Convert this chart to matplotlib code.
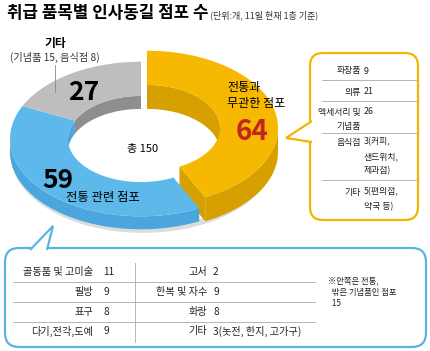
import numpy as np
import matplotlib.pyplot as plt
from matplotlib.patches import Polygon, FancyBboxPatch

plt.rcParams['font.family'] = ['Noto Sans CJK KR', 'DejaVu Sans']

# donut data
seg_names = ["전통과 무관한 점포", "전통 관련 점포", "기타"]
seg_values = [64, 59, 27]
total_label = "총 150"
other_note = "(기념품 15, 음식점 8)"

# right box (non-traditional shops)
right_labels = ["화장품", "의류", "액세서리 및\n기념품", "음식점", "기타"]
right_values = ["9", "21", "26", "3(커피,\n샌드위치,\n제과점)", "5(편의점,\n약국 등)"]

# bottom box (traditional shops)
left_labels = ["골동품 및 고미술", "필방", "표구", "다기,전각,도예"]
left_values = ["11", "9", "8", "9"]
mid_labels = ["고서", "한복 및 자수", "화랑", "기타"]
mid_values = ["2", "9", "8", "3(놋전, 한지, 고가구)"]
note_lines = ["※안쪽은 전통,", "  밖은 기념품인 점포", "  15"]

fig = plt.figure(figsize=(4.3, 3.51), dpi=100)
ax = fig.add_axes([0, 0, 1, 1])
ax.set_xlim(0, 430)
ax.set_ylim(351, 0)
ax.axis('off')

# ---- 3d donut ----
cx, cy = 141, 139
R, r = 131, 73
tilt = 0.59
T = 13

top_cols = ['#F6B800', '#5DB9EA', '#BEBEBE']
side_cols = ['#D6A000', '#4AA6DC', '#8E8E8E']
offs = [(6, 11), (0, 0), (0, 0)]   # (dx, raise) per segment


def pt(rad, th, z, dx):
    t = np.radians(th)
    return cx + dx + rad * np.cos(t), cy - rad * np.sin(t) * tilt - z


def arc(rad, a, b, z, dx, n=80):
    return [pt(rad, t, z, dx) for t in np.linspace(a, b, n)]


def clip(a, b, lo, hi):
    # parts of [a, b] inside [lo, hi], trying shifts of 360
    out = []
    for s in (-360, 0, 360):
        l, h = max(a + s, lo), min(b + s, hi)
        if h > l:
            out.append((l, h))
    return out


tot = sum(seg_values)
spans = []
start = 90.0
for v in seg_values:
    end = start - v / tot * 360
    spans.append((end, start))
    start = end

# faint shadow under the ring
shadow = arc(R + 1, -180, 0, -T - 3, 2) + arc(R, 0, -180, -T + 2, 0)
ax.add_patch(Polygon(shadow, closed=True, fc='#DCDCDC', ec='none'))

layers = {'inner': [], 'end': [], 'body': []}
for i, (a, b) in enumerate(spans):
    dx, up = offs[i]
    # inner wall, back half
    for l, h in clip(a, b, 0, 180):
        poly = arc(r, l, h, up, dx) + arc(r, h, l, -T, dx)
        layers['inner'].append((i, Polygon(poly, closed=True, fc=side_cols[i], ec='none')))
    # outer wall, front half
    for l, h in clip(a, b, -180, 0):
        poly = arc(R, l, h, up, dx) + arc(R, h, l, -T, dx)
        layers['body'].append((i, Polygon(poly, closed=True, fc=side_cols[i], ec='none', lw=0)))
    # top face
    poly = arc(R, a, b, up, dx) + arc(r, b, a, up, dx)
    layers['body'].append((i, Polygon(poly, closed=True, fc=top_cols[i], ec='none')))
    if up > 0:
        poly = [pt(r, a, up, dx), pt(R, a, up, dx), pt(R, a, -T, dx), pt(r, a, -T, dx)]
        layers['end'].append((i, Polygon(poly, closed=True, fc=side_cols[i], ec='none')))

for _, p in layers['inner']:
    ax.add_patch(p)
for _, p in layers['end']:
    ax.add_patch(p)
# raised segment goes on top of the rest
order = sorted(layers['body'], key=lambda q: (offs[q[0]][1] > 0))
for _, p in order:
    ax.add_patch(p)

# donut labels
ax.text(55, 44, "기타", fontsize=8.5, fontweight='bold', ha='center', va='center')
ax.text(55, 57, other_note, fontsize=7.3, ha='center', va='center', color='#333333')
ax.plot([55, 55], [65, 92], color='#888888', lw=0.6)
ax.text(84, 92, str(seg_values[2]), fontsize=19, fontweight='bold', ha='center', va='center')
ax.text(227, 87, "전통과", fontsize=8.7, ha='left', va='center')
ax.text(227, 103, "무관한 점포", fontsize=8.7, ha='left', va='center')
ax.text(252, 132, str(seg_values[0]), fontsize=20, fontweight='bold', color='#C0261C',
        ha='center', va='center')
ax.text(58, 181, str(seg_values[1]), fontsize=19, fontweight='bold', ha='center', va='center')
ax.text(103, 198, "전통 관련 점포", fontsize=8.9, ha='center', va='center')
ax.text(143, 149, total_label, fontsize=8, ha='center', va='center')

# ---- title ----
ax.text(7, 13, "취급 품목별 인사동길 점포 수", fontsize=12.1, fontweight='bold',
        ha='left', va='center')
ax.text(210, 15, "(단위:개, 11일 현재 1층 기준)", fontsize=6.5, ha='left', va='center',
        color='#333333')


def lines(x, y, s, lh, **kw):
    for k, line in enumerate(s.split('\n')):
        ax.text(x, y + k * lh, line, va='center', **kw)


# ---- right callout ----
ycol = '#F2B600'
ax.add_patch(FancyBboxPatch((310, 53), 108, 167, boxstyle="round,pad=0,rounding_size=13",
                            fc='white', ec=ycol, lw=1.6))
ax.add_patch(Polygon([(312, 121), (286, 138), (312, 142)], closed=False,
                     fc='white', ec=ycol, lw=1.6))
row_y = [71, 92, 112, 142, 192]
for lab, val, yy in zip(right_labels, right_values, row_y):
    lines(361, yy, lab, 14.5, ha='right', fontsize=6.4, color='#222222')
    lines(364, yy, val, 14.5, ha='left', fontsize=6.4, color='#222222')
for yy in [80, 101, 133, 180]:
    ax.plot([322, 416], [yy, yy], color='#AAAAAA', lw=0.6)

# ---- bottom callout ----
bcol = '#5AB4E2'
ax.add_patch(FancyBboxPatch((5, 248), 421, 99, boxstyle="round,pad=0,rounding_size=14",
                            fc='white', ec=bcol, lw=1.6))
ax.add_patch(Polygon([(30, 250), (53, 226), (47, 250)], closed=False,
                     fc='white', ec=bcol, lw=1.6))
rows = [272, 292, 312, 331]
for k, yy in enumerate(rows):
    ax.text(93, yy, left_labels[k], ha='right', va='center', fontsize=7.3, color='#222222')
    ax.text(103, yy, left_values[k], ha='left', va='center', fontsize=7.3, color='#222222')
    ax.text(207, yy, mid_labels[k], ha='right', va='center', fontsize=7.3, color='#222222')
    ax.text(213, yy, mid_values[k], ha='left', va='center', fontsize=7.3, color='#222222')
for yy in [282, 302, 322]:
    ax.plot([13, 315], [yy, yy], color='#AAAAAA', lw=0.6)
ax.plot([135, 135], [263, 342], color='#AAAAAA', lw=0.6)
for k, s in enumerate(note_lines):
    ax.text(328, 281 + k * 11, s, ha='left', va='center', fontsize=6, color='#222222')

fig.savefig('out.png', dpi=100)
